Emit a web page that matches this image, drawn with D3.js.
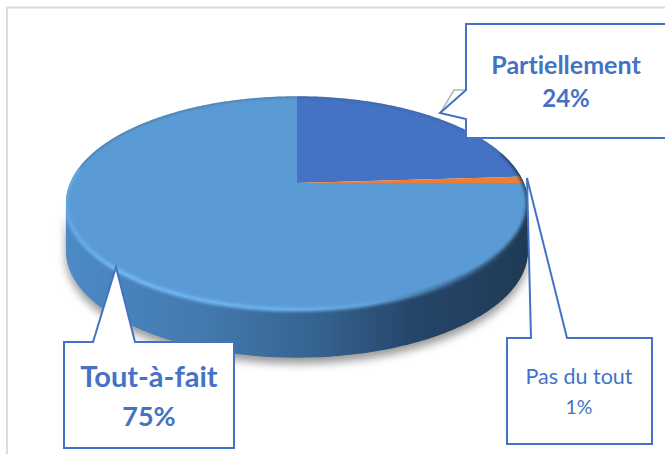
<!DOCTYPE html>
<html>
<head>
  <meta charset="UTF-8">
  <title>Pie 3D</title>
  <script src="https://d3js.org/d3.v7.min.js"></script>
  <style>
    html, body { margin: 0; padding: 0; background: #fff; overflow: hidden; }
    svg { display: block; }
    text { font-family: Lato, "Open Sans", sans-serif; fill: #4472c4; text-anchor: middle; font-variant-ligatures: none; }
  </style>
</head>
<body>
<svg></svg>
<script>
// values
const categories = ["Partiellement", "Pas du tout", "Tout-à-fait"];
const values = [24, 1, 75];
const sliceColors = ["#4472c4", "#ed7d31", "#5b9bd5"];

const width = 665, height = 454;
const svg = d3.select("svg").attr("width", width).attr("height", height);
const defs = svg.append("defs");

// the pie is tilted: unit circle -> screen, with some perspective
const cx = 297, cy = 183, bx = 227, by = 103, k = 0.187, depth = 48;
function project(a, dy = 0) {
  const x = Math.sin(a), y = -Math.cos(a);
  const w = 1 - k * y;
  return [cx + bx * x / w, cy + by * y / w + dy];
}
function rim(a0, a1, dy = 0) {
  const n = Math.max(2, Math.ceil((a1 - a0) * 60));
  return d3.range(n + 1).map(i => project(a0 + (a1 - a0) * i / n, dy));
}
const line = d3.line();

// angles where the rim is widest, the wall hangs from there
const aRight = Math.acos(-k), aLeft = 2 * Math.PI - aRight;

// gradients and blurs
function hGradient(id, stops) {
  defs.append("linearGradient").attr("id", id)
    .attr("gradientUnits", "userSpaceOnUse")
    .attr("x1", 66).attr("x2", 528).attr("y1", 0).attr("y2", 0)
    .selectAll("stop").data(stops).join("stop")
    .attr("offset", d => d[0]).attr("stop-color", d => d[1]);
}
hGradient("side", [[0, "#4c8ac6"], [0.3, "#4379ae"], [0.55, "#35628e"], [0.75, "#25466a"], [1, "#1f3a55"]]);
hGradient("bevel", [[0, "#62a8e6"], [0.12, "#70baf8"], [0.45, "#6cb2f0"], [0.65, "#62a4de"], [0.82, "#3a6a98"], [1, "#1f3a55"]]);
defs.append("filter").attr("id", "blur2").attr("x", "-10%").attr("y", "-10%").attr("width", "120%").attr("height", "130%")
  .append("feGaussianBlur").attr("stdDeviation", 1.6);
defs.append("filter").attr("id", "blur5").attr("x", "-10%").attr("y", "-10%").attr("width", "120%").attr("height", "130%")
  .append("feGaussianBlur").attr("stdDeviation", 4);

const sideShape = line(rim(aRight, aLeft).concat(rim(aRight, aLeft, depth).reverse())) + "Z";
const topShape = line(rim(0, 2 * Math.PI)) + "Z";
const solid = defs.append("clipPath").attr("id", "solid");
solid.append("path").attr("d", sideShape);
solid.append("path").attr("d", topShape);

// chart area border
svg.append("path")
  .attr("d", d3.line()([[7, height], [7, 7.5], [width, 7.5]]))
  .attr("fill", "none").attr("stroke", "#dcdcdc").attr("stroke-width", 2);

// shadow and side wall
svg.append("path").attr("d", sideShape)
  .attr("transform", "translate(0,6)")
  .attr("fill", "#9a9a9a").attr("filter", "url(#blur5)");
svg.append("path").attr("d", sideShape).attr("fill", "url(#side)");

// top of the pie, from d3.pie angles
const pie = d3.pie().sort(null).value(d => d);
const arcs = pie(values);
svg.append("g").selectAll("path.slice")
  .data(arcs)
  .join("path")
  .attr("class", "slice")
  .attr("d", d => line([[cx, cy]].concat(rim(d.startAngle, d.endAngle))) + "Z")
  .attr("fill", (d, i) => sliceColors[i]);

// bevel along the rim, kept inside the pie
const bevel = svg.append("g").attr("clip-path", "url(#solid)");
bevel.append("path")
  .attr("d", line(rim(Math.PI * 0.4, Math.PI * 1.55)))
  .attr("fill", "none").attr("stroke", "url(#bevel)").attr("stroke-width", 4)
  .attr("filter", "url(#blur2)");
bevel.append("path")
  .attr("d", line(rim(Math.PI * 1.55, Math.PI * 2.4)))
  .attr("fill", "none").attr("stroke", "#3f5f80").attr("stroke-width", 2).attr("opacity", 0.7)
  .attr("filter", "url(#blur2)");

// callouts
const boxes = [
  { x0: 466, y0: 24, x1: 668, y1: 138, side: "left", p0: 90, p1: 119, tip: [440, 113], size: [25, 24], weight: 700, tx: 566, ty: [74, 107] },
  { x0: 507, y0: 338, x1: 652, y1: 444, side: "top", p0: 531, p1: 567, tip: [527, 178], size: [21.5, 19.5], weight: 400, tx: 579, ty: [384, 414] },
  { x0: 64, y0: 342, x1: 234, y1: 448, side: "top", p0: 93, p1: 135, tip: [116, 267], size: [29, 27], weight: 700, tx: 149, ty: [387, 426] }
];

// grey leader behind the Partiellement callout
svg.append("path")
  .attr("d", d3.line()([[441, 112], [454, 90], [468, 90]]))
  .attr("fill", "none").attr("stroke", "#b5b5b5").attr("stroke-width", 1.5);

boxes.forEach((b, i) => {
  const pts = b.side === "left"
    ? [[b.x0, b.y0], [b.x1, b.y0], [b.x1, b.y1], [b.x0, b.y1], [b.x0, b.p1], b.tip, [b.x0, b.p0]]
    : [[b.x0, b.y0], [b.p0, b.y0], b.tip, [b.p1, b.y0], [b.x1, b.y0], [b.x1, b.y1], [b.x0, b.y1]];
  svg.append("path")
    .attr("d", d3.line()(pts) + "Z")
    .attr("fill", "#fff").attr("stroke", "#4472c4").attr("stroke-width", 2);
  const labels = [categories[i], values[i] + "%"];
  svg.selectAll(null).data(labels).join("text")
    .attr("x", b.tx)
    .attr("y", (d, j) => b.ty[j])
    .attr("font-size", (d, j) => b.size[j])
    .attr("font-weight", b.weight)
    .text(d => d);
});
</script>
</body>
</html>
